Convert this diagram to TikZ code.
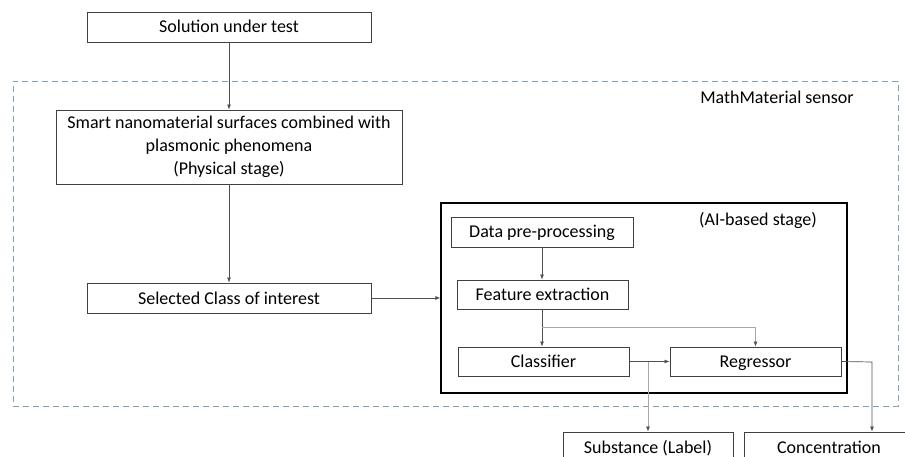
\documentclass[tikz,border=0pt]{standalone}
\usepackage{fontspec}
\setmainfont{Carlito}
\usetikzlibrary{arrows.meta}
\definecolor{boxc}{HTML}{404040}
\definecolor{linec}{HTML}{505050}
\definecolor{lightc}{HTML}{A8A8A8}
\definecolor{dashc}{HTML}{7F9FD0}
\begin{document}
\begin{tikzpicture}[x=1pt,y=-1pt,
  bbox/.style={draw=boxc,line width=0.9pt,rectangle,inner sep=0pt,align=center,font=\fontsize{18}{23}\selectfont},
  box/.style={bbox,text height=14pt,text depth=2pt},
  conn/.style={draw=linec,line width=0.7pt,-{Latex[length=5pt,width=4pt]}},
  lconn/.style={draw=lightc,line width=0.7pt,-{Latex[length=5pt,width=4pt,fill=linec,color=linec]}},
  txt/.style={font=\fontsize{18}{23}\selectfont,inner sep=0pt}]
\useasboundingbox (0,0) rectangle (905,457);
\node[draw=dashc,line width=0.9pt,dash pattern=on 6pt off 4pt,minimum width=885pt,minimum height=325pt,inner sep=0pt] (sensor) at (455.5,243.5) {};
\node[txt] (sensortxt) at (777,97) {MathMaterial sensor};
\node[box] (sol) at (229,27) [minimum width=284pt,minimum height=30pt] {Solution under test};
\node[bbox] (smart) at (229,147) [minimum width=346pt,minimum height=74pt] {Smart nanomaterial surfaces combined with\\plasmonic phenomena\\(Physical stage)};
\node[box] (sel) at (229,298) [minimum width=284pt,minimum height=30pt] {Selected Class of interest};
\node[draw=black,line width=1.3pt,minimum width=406pt,minimum height=190pt,inner sep=0pt] (ai) at (644,298) {};
\node[txt] (aitxt) at (758,220) {(AI-based stage)};
\node[box] (data) at (542,232) [minimum width=182pt,minimum height=30pt] {Data pre-processing};
\node[box] (feat) at (542.5,294.5) [minimum width=171pt,minimum height=29pt] {Feature extraction};
\node[box] (cls) at (543.5,361.5) [minimum width=171pt,minimum height=29pt] {Classifier};
\node[box] (reg) at (755.5,361.5) [minimum width=171pt,minimum height=29pt] {Regressor};
\node[box] (sub) at (648,447) [minimum width=170pt,minimum height=30pt] {Substance (Label)};
\node[box] (conc) at (829,447) [minimum width=170pt,minimum height=30pt] {Concentration};
\coordinate (br) at (542,327);
\coordinate (cj) at (648,362);
\coordinate (rc) at (872,362);
\draw[conn] (sol.south) -- (smart.north);
\draw[conn] (smart.south) -- (sel.north);
\draw[conn] (sel.east) -- (ai.west);
\draw[conn] (data.south -| br) -- (feat.north -| br);
\draw[conn] (feat.south -| br) -- (cls.north -| br);
\draw[lconn] (br) -| (reg.north);
\draw[conn] (cls.east) -- (reg.west);
\draw[lconn] (cj) -- (sub.north);
\draw[conn] (reg.east) -- (rc) -- (conc.north -| rc);
\end{tikzpicture}
\end{document}
